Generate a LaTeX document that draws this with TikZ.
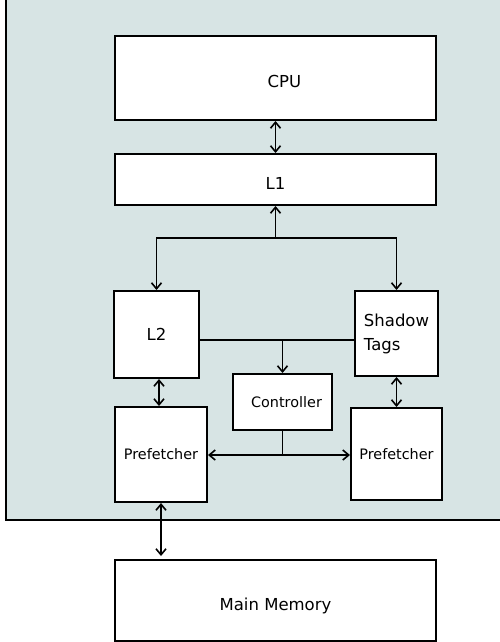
\documentclass[tikz,border=0pt]{standalone}
\usepackage{fontspec}
\setmainfont{DejaVu Sans}
\usetikzlibrary{arrows.meta,calc}
\definecolor{panelbg}{RGB}{215,228,228}
\tikzset{
  box/.style={draw=black, fill=white, line width=2pt, inner sep=0pt, font=\fontsize{16.5}{24}\selectfont},
  lowtext/.style={text height=19pt, text depth=0pt},
  smallbox/.style={box, font=\fontsize{14.4}{17}\selectfont},
  conn/.style={line width=1.8pt, -{Straight Barb[length=6pt,width=10pt,line width=1.6pt]}},
  dconn/.style={line width=1.8pt, {Straight Barb[length=6pt,width=10pt,line width=1.6pt]}-{Straight Barb[length=6pt,width=10pt,line width=1.6pt]}},
  plain/.style={line width=1.8pt}
}
\begin{document}
\begin{tikzpicture}[x=1pt,y=-1pt]
\useasboundingbox (0,0) rectangle (500,642);
\clip (0,0) rectangle (500,642);
\draw[fill=panelbg, line width=2pt] (6,-5) rectangle (510,520);

\node[box, lowtext, minimum width=321pt, minimum height=84pt] (CPU) at (275.5,78) {\hspace*{18pt}CPU};
\node[box, lowtext, minimum width=321pt, minimum height=51pt] (L1) at (275.5,179.5) {L1};
\node[box, minimum width=85pt, minimum height=87pt] (L2) at (156.5,334.5) {L2};
\node[box, minimum width=83pt, minimum height=85pt, align=left] (ST) at (396.5,333.5) {Shadow\\Tags};
\node[smallbox, minimum width=99pt, minimum height=56pt] (Ctrl) at (282.5,402) {\hspace*{8pt}Controller};
\node[smallbox, minimum width=92pt, minimum height=95pt] (PL) at (161,454.5) {Prefetcher};
\node[smallbox, minimum width=91pt, minimum height=92pt] (PR) at (396.5,454) {Prefetcher};
\node[box, lowtext, minimum width=321pt, minimum height=81pt] (MM) at (275.5,600.5) {Main Memory};

% CPU <-> L1
\draw[dconn] (CPU.south) -- (L1.north);
% bus below L1
\coordinate (bus) at (275.5,238);
\draw[conn] (bus) -- (L1.south);
\draw[conn] (bus) -| (L2.north);
\draw[conn] (bus) -| (ST.north);
% L2 -- Shadow Tags line, to controller
\coordinate (cbus) at (282.5,340);
\draw[plain] (L2.east |- cbus) -- (ST.west |- cbus);
\draw[conn] (cbus) -- (Ctrl.north);
% controller to prefetchers
\coordinate (pbus) at (282.5,455);
\draw[plain] (Ctrl.south) -- (pbus);
\draw[conn] (pbus) -- (pbus -| PL.east);
\draw[conn] (pbus) -- (pbus -| PR.west);
% vertical links
\draw[dconn] ([xshift=2.5pt]L2.south) -- ([xshift=2.5pt]L2.south |- PL.north);
\draw[dconn] (ST.south) -- (PR.north);
\draw[dconn, shorten >=3pt] (PL.south) -- (PL.south |- MM.north);
\end{tikzpicture}
\end{document}
